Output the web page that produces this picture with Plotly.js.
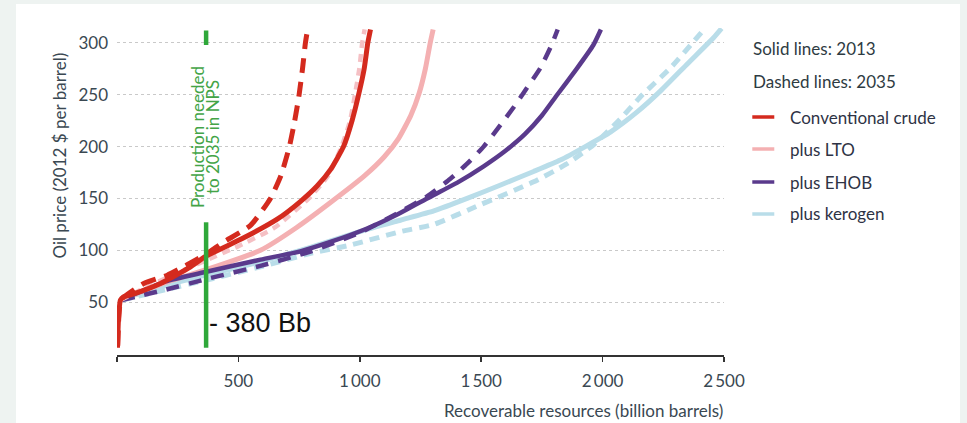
<!DOCTYPE html>
<html>
<head>
<meta charset="utf-8">
<script src="https://cdn.plot.ly/plotly-3.0.1.min.js"></script>
<style>
  html, body { margin: 0; padding: 0; background: #eef3f1; width: 967px; height: 423px; overflow: hidden; }
  #chart { position: absolute; left: 16px; top: 4px; width: 944px; height: 419px; }
</style>
</head>
<body>
<div id="chart"></div>
<script>
// ---- Data ----
// Conventional crude
const crude2013X = [2, 6, 14, 27, 56, 179, 303, 364, 522, 660, 755, 824, 880, 933, 968, 995, 1018, 1033, 1044];
const crude2013Y = [6, 33, 52, 55, 57, 68, 84, 94, 112, 130, 147, 162, 178, 200, 225, 250, 275, 300, 313];
const crude2035X = [3, 8, 15, 28, 110, 207, 289, 371, 440, 550, 632, 675, 710, 732, 750, 764, 776, 785];
const crude2035Y = [8, 38, 52, 55, 68, 76, 86, 97, 108, 124, 150, 172, 200, 225, 250, 275, 300, 313];
// plus LTO
const lto2013X = [15, 100, 200, 364, 591, 740, 890, 1020, 1100, 1160, 1210, 1245, 1270, 1290, 1302];
const lto2013Y = [52, 60, 69, 81, 100, 122, 148, 172, 190, 208, 230, 252, 275, 300, 313];
const lto2035X = [15, 100, 200, 364, 500, 650, 790, 870, 925, 960, 980, 998, 1010, 1020];
const lto2035Y = [52, 62, 73, 90, 104, 122, 150, 172, 200, 225, 250, 275, 300, 313];
// plus EHOB
const ehob2013X = [20, 97, 200, 364, 591, 755, 879, 1030, 1150, 1277, 1400, 1510, 1600, 1680, 1750, 1813, 1893, 1962, 1993];
const ehob2013Y = [53, 60, 70, 79, 91, 99, 108, 121, 134, 150, 165, 181, 196, 212, 230, 250, 275, 298, 313];
const ehob2035X = [20, 110, 200, 364, 591, 800, 1000, 1150, 1277, 1373, 1440, 1510, 1580, 1640, 1675, 1744, 1790, 1815];
const ehob2035Y = [52, 57, 62, 72, 85, 99, 117, 135, 152, 169, 183, 200, 221, 240, 252, 276, 298, 313];
// plus kerogen
const ker2013X = [20, 200, 364, 591, 800, 1000, 1167, 1305, 1442, 1580, 1716, 1826, 1936, 2032, 2140, 2240, 2350, 2457, 2490];
const ker2013Y = [53, 66, 76, 89, 103, 118, 129, 138, 150, 163, 176, 187, 201, 214, 233, 254, 280, 305, 314];
const ker2035X = [20, 200, 364, 591, 797, 961, 1167, 1305, 1497, 1716, 1850, 1964, 2070, 2164, 2280, 2370, 2418];
const ker2035Y = [52, 62, 71, 84, 97, 105, 118, 125, 144, 166, 183, 202, 226, 250, 276, 300, 313];

// Axis ticks
const xTickVals = [0, 500, 1000, 1500, 2000, 2500];
const xTickText = ['', '500', '1\u2009000', '1\u2009500', '2\u2009000', '2\u2009500'];
const yTickVals = [50, 100, 150, 200, 250, 300];

// Production needed marker
const productionX = 367;
const productionLabel = '- 380 Bb';

// Legend
const legendNames = ['Conventional crude', 'plus LTO', 'plus EHOB', 'plus kerogen'];

// ---- Styles ----
const RED = '#d42a1e', PINK = '#f4b0b2', PURPLE = '#5a3a8c', BLUE = '#b9dde9';
const FONT = 'Lato, "Open Sans", sans-serif';
const TXT = '#3a4852';

function tr(x, y, color, width, dash) {
  return {
    x: x, y: y, type: 'scatter', mode: 'lines', hoverinfo: 'skip', showlegend: false,
    line: { color: color, width: width, dash: dash || 'solid', shape: 'spline', smoothing: 0.5 }
  };
}

const data = [
  tr(ker2035X, ker2035Y, BLUE, 5, '10px,7px'),
  tr(ker2013X, ker2013Y, BLUE, 5),
  tr(lto2013X, lto2013Y, PINK, 5),
  tr(ehob2035X, ehob2035Y, PURPLE, 4.5, '13px,10px'),
  tr(ehob2013X, ehob2013Y, PURPLE, 4.5),
  tr(lto2035X, lto2035Y, '#f5c0c4', 4.5, '8px,6px'),
  tr(crude2013X, crude2013Y, RED, 5),
  tr(crude2035X, crude2035Y, RED, 5, '15px,9px')
];

// pixel helpers for paper coords
const PL = 100.5, PT = 24, PW = 607.2, PH = 327;
const px = v => (v - 16 - PL) / PW;
const py = v => (PH + PT - (v - 4)) / PH;

const shapes = [
  { type: 'line', xref: 'x', yref: 'y', x0: productionX, x1: productionX, y0: 298, y1: 312,
    line: { color: '#2fa83a', width: 4.5 }, layer: 'above' },
  { type: 'line', xref: 'x', yref: 'y', x0: productionX, x1: productionX, y0: 6, y1: 127,
    line: { color: '#2fa83a', width: 4.5 }, layer: 'above' }
];
const legendColors = [RED, PINK, PURPLE, BLUE];
const legendY = [117, 149, 182, 214];
legendColors.forEach((c, i) => {
  shapes.push({ type: 'line', xref: 'paper', yref: 'paper', x0: px(752), x1: px(774),
    y0: py(legendY[i]), y1: py(legendY[i]), line: { color: c, width: 3.5 } });
});

const annotations = [
  { xref: 'paper', yref: 'paper', x: px(725), y: py(410), xanchor: 'right', yanchor: 'middle',
    text: 'Recoverable resources (billion barrels)', showarrow: false, font: { family: FONT, size: 17, color: TXT } },
  { xref: 'paper', yref: 'paper', x: px(58), y: py(156), xanchor: 'center', yanchor: 'middle', textangle: -90,
    text: 'Oil price (2012 $ per barrel)', showarrow: false, font: { family: FONT, size: 17, color: TXT } },
  { xref: 'x', yref: 'paper', x: productionX, y: py(137), xshift: -9, xanchor: 'center', yanchor: 'middle', textangle: -90,
    text: 'Production needed', showarrow: false, font: { family: FONT, size: 17, color: '#43a447' } },
  { xref: 'x', yref: 'paper', x: productionX, y: py(137), xshift: 6, xanchor: 'center', yanchor: 'middle', textangle: -90,
    text: 'to 2035 in NPS', showarrow: false, font: { family: FONT, size: 17, color: '#43a447' } },
  { xref: 'paper', yref: 'paper', x: px(207), y: py(323), xanchor: 'left', yanchor: 'middle',
    text: productionLabel, showarrow: false, font: { family: '"Liberation Sans", Arial, sans-serif', size: 27, color: '#111111' } },
  { xref: 'paper', yref: 'paper', x: px(751), y: py(49), xanchor: 'left', yanchor: 'middle',
    text: 'Solid lines: 2013', showarrow: false, font: { family: FONT, size: 17, color: '#2e3b42' } },
  { xref: 'paper', yref: 'paper', x: px(751), y: py(81), xanchor: 'left', yanchor: 'middle',
    text: 'Dashed lines: 2035', showarrow: false, font: { family: FONT, size: 17, color: '#2e3b42' } }
];
legendNames.forEach((n, i) => {
  annotations.push({ xref: 'paper', yref: 'paper', x: px(788), y: py(legendY[i]), xanchor: 'left', yanchor: 'middle',
    text: n, showarrow: false, font: { family: FONT, size: 17, color: '#2e3345' } });
});

const layout = {
  width: 944, height: 419,
  margin: { l: PL, r: 944 - PL - PW, t: PT, b: 419 - PT - PH, pad: 0 },
  paper_bgcolor: '#ffffff', plot_bgcolor: '#ffffff',
  font: { family: FONT, size: 17, color: TXT },
  showlegend: false,
  xaxis: {
    range: [0, 2500], tickmode: 'array', tickvals: xTickVals, ticktext: xTickText,
    showgrid: false, zeroline: false, showline: true, linecolor: '#333333', linewidth: 1.5,
    ticks: 'outside', ticklen: 5, tickcolor: '#333333', tickwidth: 1.5, ticklabelstandoff: 5,
    tickfont: { family: FONT, size: 17, color: TXT }, fixedrange: true
  },
  yaxis: {
    range: [-1, 314.4], tickmode: 'array', tickvals: yTickVals,
    showgrid: true, gridcolor: '#c9c9c9', griddash: 'dot', gridwidth: 1,
    zeroline: false, showline: false, ticks: '', ticklabelstandoff: 8,
    tickfont: { family: FONT, size: 17, color: TXT }, fixedrange: true
  },
  shapes: shapes,
  annotations: annotations
};

Plotly.newPlot('chart', data, layout, { staticPlot: true, displayModeBar: false });
</script>
</body>
</html>
